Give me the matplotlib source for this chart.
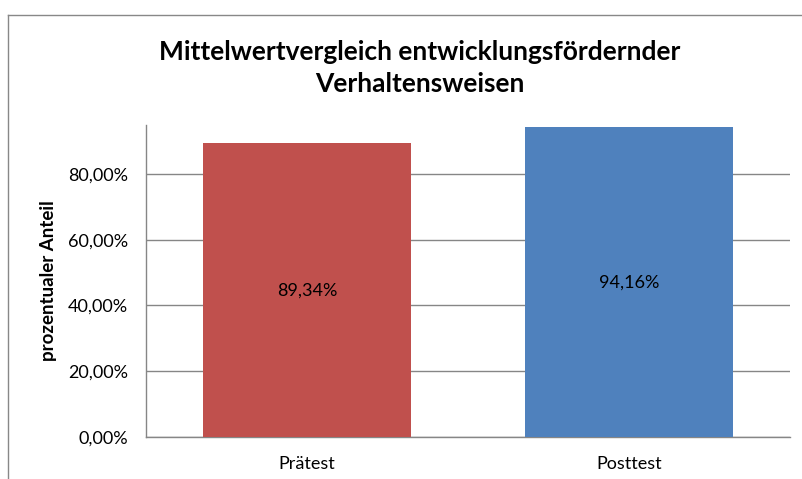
import numpy as np
import matplotlib
matplotlib.use("Agg")
import matplotlib.pyplot as plt
from matplotlib.lines import Line2D
from matplotlib.ticker import FuncFormatter

categories = ["Prätest", "Posttest"]
values = [0.8934, 0.9416]
colors = ["#C0504D", "#4F81BD"]
y_ticks = [0.0, 0.2, 0.4, 0.6, 0.8]

plt.rcParams["font.family"] = ["Lato", "DejaVu Sans"]

def pct(v, pos=None):
    return f"{v * 100:.2f}%".replace(".", ",")

fig = plt.figure(figsize=(8.03, 4.79), dpi=100)
W, H = 803, 479
ax = fig.add_axes([146 / W, 1 - 437 / H, (790 - 146) / W, (437 - 125) / H])

x = np.arange(len(categories))
bars = ax.bar(x, values, width=0.645, color=colors, zorder=3)
for b, v in zip(bars, values):
    ax.text(b.get_x() + b.get_width() / 2, v / 2, pct(v),
            ha="center", va="center", fontsize=13, color="#000000", zorder=4)

ax.set_xlim(-0.5, 1.5)
ax.set_ylim(0, 0.949)
ax.set_yticks(y_ticks)
ax.yaxis.set_major_formatter(FuncFormatter(pct))
ax.set_xticks(x)
ax.set_xticklabels(categories)
ax.tick_params(axis="both", length=0, labelsize=13, colors="#000000")
ax.tick_params(axis="y", pad=13)
ax.tick_params(axis="x", pad=14)
ax.grid(axis="y", color="#868686", linewidth=1, zorder=0)
for s in ["top", "right"]:
    ax.spines[s].set_visible(False)
for s in ["left", "bottom"]:
    ax.spines[s].set_color("#868686")
    ax.spines[s].set_linewidth(1)

ax.set_ylabel("prozentualer Anteil", fontsize=13.5, fontweight="bold", labelpad=8)

fig.text(420 / W, 1 - 68 / H, "Mittelwertvergleich entwicklungsfördernder\nVerhaltensweisen",
         ha="center", va="center", fontsize=19, fontweight="bold", linespacing=1.42)

# chart border (left and top)
fig.add_artist(Line2D([8 / W, 8 / W], [0, 1 - 15 / H], transform=fig.transFigure,
                      color="#888888", linewidth=1))
fig.add_artist(Line2D([8 / W, 1], [1 - 15 / H, 1 - 15 / H], transform=fig.transFigure,
                      color="#888888", linewidth=1))

fig.savefig("out.png", dpi=100)
